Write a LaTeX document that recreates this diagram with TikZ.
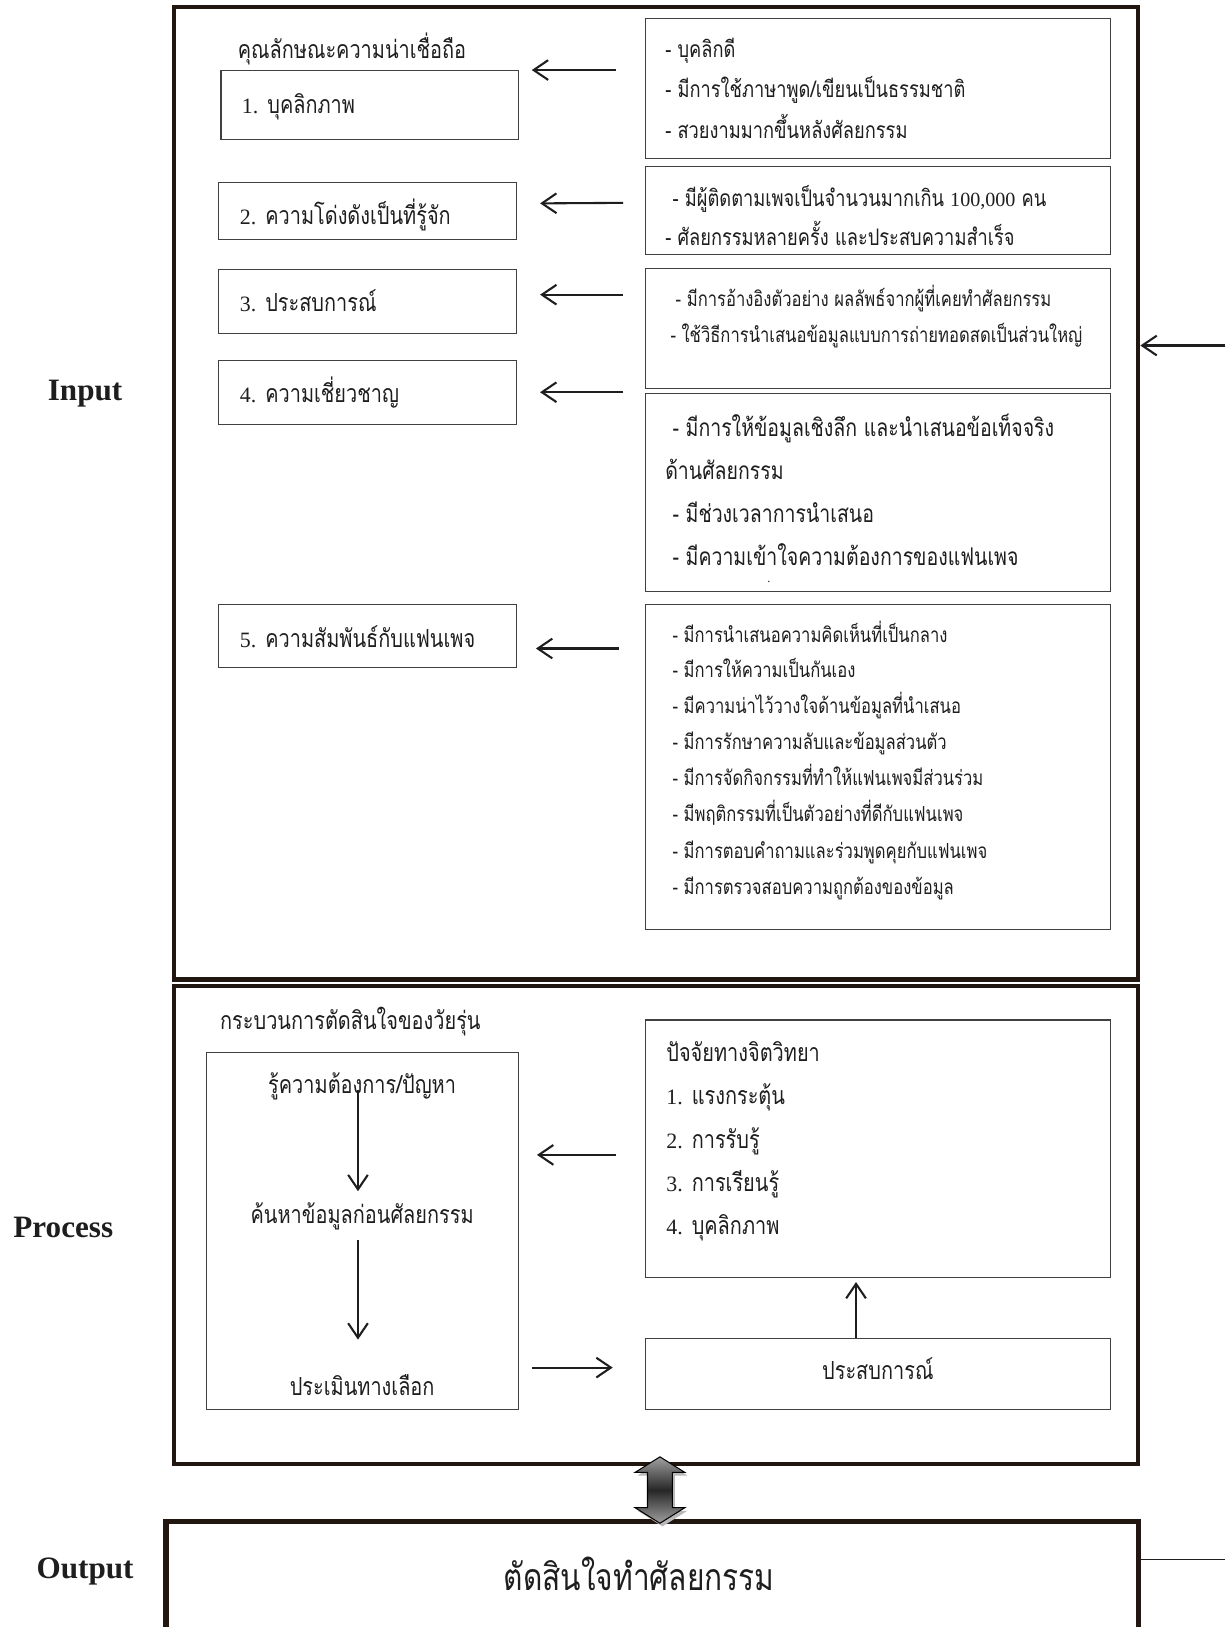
\documentclass[tikz,border=0pt]{standalone}
\usepackage{fontspec}
\setmainfont{Liberation Serif}
\newfontfamily\thai[Script=Thai,FakeStretch=0.8]{Loma}
\newfontfamily\latn[Scale=0.88]{Liberation Serif}
\newcommand\dg[1]{{\latn #1}}
\usetikzlibrary{arrows.meta}
\definecolor{framec}{HTML}{221611}
\definecolor{ink}{HTML}{1E1E1E}
\tikzset{
  thinbox/.style={draw=ink!85, line width=1pt, inner sep=0pt},
  frame/.style={draw=framec, line width=4pt, inner sep=0pt},
  arr/.style={draw=ink, line width=2pt, -{Straight Barb[length=14pt,width=19pt,line width=2pt]}},
  ta/.style={inner sep=0pt, text=ink, yshift=-3pt, font=\thai\fontsize{24}{28}\selectfont},
  tr/.style={inner sep=0pt, text=ink, yshift=-3pt, font=\thai\fontsize{22}{26}\selectfont},
  tb/.style={inner sep=0pt, text=ink, yshift=-3pt, font=\thai\fontsize{20}{24}\selectfont},
  tc/.style={inner sep=0pt, text=ink, yshift=-3pt, font=\thai\fontsize{23.5}{28}\selectfont},
  td/.style={inner sep=0pt, text=ink, yshift=-3pt, font=\thai\fontsize{36}{40}\selectfont},
  lab/.style={inner sep=0pt, text=ink, font=\bfseries\fontsize{30}{34}\selectfont},
}
\begin{document}
\begin{tikzpicture}[x=1pt,y=-1pt]
\useasboundingbox (0,0) rectangle (1181,1568);
\fill[white] (0,0) rectangle (1181,1568);

% frames
\node[frame, minimum width=929pt, minimum height=937pt] (inbox) at (632.5,475.5) {};
\node[frame, minimum width=929pt, minimum height=461pt] (procbox) at (632.5,1180.5) {};
\node[frame, line width=5pt, minimum width=937pt, minimum height=134pt] (outbox) at (628.5,1533) {};

% side labels
\node[lab, anchor=base] (linput) at (82,386) {Input};
\node[lab, anchor=base] (lproc) at (61,1193) {Process};
\node[lab, anchor=base] (lout) at (82,1521) {Output};

% input left boxes
\node[ta, anchor=base west] (ttl) at (229,53) {คุณลักษณะความน่าเชื่อถือ};
\node[thinbox, minimum width=287pt, minimum height=66pt] (l1) at (356.5,101) {};
\node[thinbox, minimum width=287pt, minimum height=55pt] (l2) at (354.5,203.5) {};
\node[thinbox, minimum width=287pt, minimum height=61pt] (l3) at (354.5,290.5) {};
\node[thinbox, minimum width=287pt, minimum height=62pt] (l4) at (354.5,378) {};
\node[thinbox, minimum width=287pt, minimum height=60pt] (l5) at (354.5,613) {};
\node[ta, anchor=base west] (l1t) at (233,106) {\dg{1.} บุคลิกภาพ};
\node[ta, anchor=base west] (l2t) at (231,213) {\dg{2.} ความโด่งดังเป็นที่รู้จัก};
\node[ta, anchor=base west] (l3t) at (231,297) {\dg{3.} ประสบการณ์};
\node[ta, anchor=base west] (l4t) at (231,385) {\dg{4.} ความเชี่ยวชาญ};
\node[ta, anchor=base west] (l5t) at (231,621) {\dg{5.} ความสัมพันธ์กับแฟนเพจ};

% input right boxes
\node[thinbox, minimum width=448pt, minimum height=135pt] (r1) at (846,85.5) {};
\node[thinbox, minimum width=448pt, minimum height=85pt] (r2) at (846,202.5) {};
\node[thinbox, minimum width=448pt, minimum height=115pt] (r3) at (846,316.5) {};
\node[thinbox, minimum width=448pt, minimum height=191pt] (r4) at (846,474.5) {};
\node[thinbox, minimum width=448pt, minimum height=313pt] (r5) at (846,739.5) {};

\node[tr, anchor=base west] (r1a) at (641,52) {- บุคลิกดี};
\node[tr, anchor=base west] (r1b) at (641,91) {- มีการใช้ภาษาพูด/เขียนเป็นธรรมชาติ};
\node[tr, anchor=base west] (r1c) at (641,130) {- สวยงามมากขึ้นหลังศัลยกรรม};
\node[tr, anchor=base west] (r2a) at (648,196) {- มีผู้ติดตามเพจเป็นจำนวนมากเกิน \dg{100,000} คน};
\node[tr, anchor=base west] (r2b) at (641,234) {- ศัลยกรรมหลายครั้ง และประสบความสำเร็จ};
\node[tb, anchor=base west] (r3a) at (651,292) {- มีการอ้างอิงตัวอย่าง ผลลัพธ์จากผู้ที่เคยทำศัลยกรรม};
\node[tb, anchor=base west] (r3b) at (646,327) {- ใช้วิธีการนำเสนอข้อมูลแบบการถ่ายทอดสดเป็นส่วนใหญ่};
\node[tc, anchor=base west] (r4a) at (648,418) {- มีการให้ข้อมูลเชิงลึก และนำเสนอข้อเท็จจริง};
\node[tc, anchor=base west] (r4b) at (641,459) {ด้านศัลยกรรม};
\node[tc, anchor=base west] (r4c) at (648,501) {- มีช่วงเวลาการนำเสนอ};
\node[tc, anchor=base west] (r4d) at (648,542) {- มีความเข้าใจความต้องการของแฟนเพจ};
\node[inner sep=0pt, text=ink, font=\fontsize{12}{12}\selectfont] (r4dot) at (741,561) {.};

\foreach \yy/\tt [count=\i] in {
  611/{- มีการนำเสนอความคิดเห็นที่เป็นกลาง},
  645/{- มีการให้ความเป็นกันเอง},
  680/{- มีความน่าไว้วางใจด้านข้อมูลที่นำเสนอ},
  714/{- มีการรักษาความลับและข้อมูลส่วนตัว},
  749/{- มีการจัดกิจกรรมที่ทำให้แฟนเพจมีส่วนร่วม},
  784/{- มีพฤติกรรมที่เป็นตัวอย่างที่ดีกับแฟนเพจ},
  819/{- มีการตอบคำถามและร่วมพูดคุยกับแฟนเพจ},
  854/{- มีการตรวจสอบความถูกต้องของข้อมูล}}
  {\node[tb, anchor=base west] (r5t\i) at (648,\yy+5) {\tt};}

% input arrows
\draw[arr] ([xshift=-28pt]r1.west |- l1.north) -- ([xshift=12pt]l1.north east);
\draw[arr] ([xshift=-21pt,yshift=7pt]r2.west) -- ([xshift=22pt,yshift=7.5pt]l2.east);
\draw[arr] ([xshift=-21pt,yshift=6.5pt]r3.west |- l3.east) -- ([xshift=22pt,yshift=6.5pt]l3.east);
\draw[arr] ([xshift=-21pt]r4.west |- l4.east) -- ([xshift=22pt]l4.east);
\draw[arr] ([xshift=-25pt,yshift=-12pt]r5.west |- l5.east) -- ([xshift=18pt,yshift=-12pt]l5.east);

% feedback on the right edge
\coordinate (fb1) at (1181,333);
\coordinate (fb2) at (1181,1503);
\draw[arr] (fb1) -- (fb1 -| inbox.east);
\draw[draw=ink, line width=1.6pt] (outbox.east |- fb2) -- (fb2);

% process section
\node[ta, anchor=base west] (ptitle) at (212,989) {กระบวนการตัดสินใจของวัยรุ่น};
\node[thinbox, minimum width=301pt, minimum height=344pt] (pl) at (349.5,1186) {};
\node[ta, anchor=base] (pl1) at (349,1051) {รู้ความต้องการ/ปัญหา};
\node[ta, anchor=base] (pl2) at (349,1176) {ค้นหาข้อมูลก่อนศัลยกรรม};
\node[ta, anchor=base] (pl3) at (349,1342) {ประเมินทางเลือก};
\draw[arr] ([xshift=-4pt,yshift=4pt]pl1.base) -- ([xshift=-4pt,yshift=31pt]pl2.base);
\draw[arr] ([xshift=-4pt,yshift=-16pt]pl2.base) -- ([xshift=-4pt,yshift=54pt]pl3.base);

\node[thinbox, minimum width=448pt, minimum height=248pt] (pr1) at (846,1107) {};
\node[thinbox, minimum width=448pt, minimum height=68pt] (pr2) at (846,1324) {};
\node[ta, anchor=base west] (pr1a) at (642,1020) {ปัจจัยทางจิตวิทยา};
\node[ta, anchor=base west] (pr1b) at (642,1061) {\dg{1.} แรงกระตุ้น};
\node[ta, anchor=base west] (pr1c) at (642,1104) {\dg{2.} การรับรู้};
\node[ta, anchor=base west] (pr1d) at (642,1145) {\dg{3.} การเรียนรู้};
\node[ta, anchor=base west] (pr1e) at (642,1187) {\dg{4.} บุคลิกภาพ};
\node[ta, anchor=base] (pr2t) at (846,1326) {ประสบการณ์};

\draw[arr] ([xshift=-28pt]pr1.west |- 0,1113) -- ([xshift=17pt]pl.east |- 0,1113);
\draw[arr] ([xshift=-21pt]pr2.north) -- ([xshift=-21pt,yshift=-4pt]pr1.south);
\draw[arr] ([xshift=12pt,yshift=6pt]pl.east |- pr2.west) -- ([xshift=-31pt,yshift=6pt]pr2.west);

% double arrow between process and output
\coordinate (dblc) at (636,1436);
\fill[shift={(dblc)}, xshift=2.5pt, yshift=-3pt, gray!55]
  (0,-32) -- (24,-17) -- (12,-17) -- (12,17) -- (24,17) -- (0,32) -- (-24,17) -- (-12,17) -- (-12,-17) -- (-24,-17) -- cycle;
\shade[shift={(dblc)}, top color=gray!75, bottom color=gray!75, middle color=black!85, draw=black, line width=1pt]
  (0,-32) -- (24,-17) -- (12,-17) -- (12,17) -- (24,17) -- (0,32) -- (-24,17) -- (-12,17) -- (-12,-17) -- (-24,-17) -- cycle;

% output text
\node[td, anchor=base] (outt) at (616,1530) {ตัดสินใจทำศัลยกรรม};
\end{tikzpicture}
\end{document}
